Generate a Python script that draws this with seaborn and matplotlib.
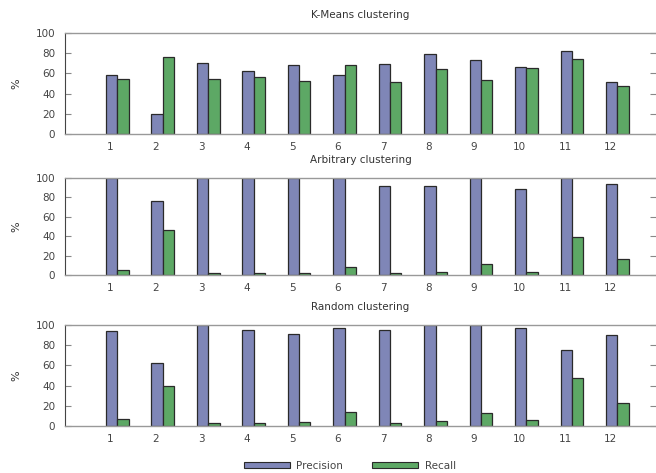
import numpy as np
import pandas as pd
import matplotlib
matplotlib.use("Agg")
import matplotlib.pyplot as plt
import seaborn as sns
from matplotlib.patches import Patch

clusters = list(range(1, 13))
titles = ["K-Means clustering", "Arbitrary clustering", "Random clustering"]
series = ["Precision", "Recall"]

kmeans_precision = [58, 20, 70, 62, 68, 58, 69, 79, 73, 66, 82, 51]
kmeans_recall = [54, 76, 54, 56, 52, 68, 51, 64, 53, 65, 74, 48]
arbitrary_precision = [100, 76, 100, 100, 100, 100, 92, 92, 100, 89, 100, 94]
arbitrary_recall = [5, 46, 2, 2, 2, 8, 2, 3, 11, 3, 39, 17]
random_precision = [94, 62, 100, 95, 91, 97, 95, 100, 100, 97, 75, 90]
random_recall = [7, 40, 3, 3, 4, 14, 3, 5, 13, 6, 48, 23]

yticks = [0, 20, 40, 60, 80, 100]

panels = [
    (kmeans_precision, kmeans_recall),
    (arbitrary_precision, arbitrary_recall),
    (random_precision, random_recall),
]

sns.set_style("white")
plt.rcParams['font.family'] = ['DejaVu Sans']

colors = {"Precision": "#7f86b7", "Recall": "#5da865"}
W, H = 656, 473
fig = plt.figure(figsize=(W / 100, H / 100), dpi=100)

# axes boxes in pixels: (left, top, right, bottom)
boxes = [(65, 33, 656, 134), (65, 178, 656, 275), (65, 325, 656, 426)]

for (prec, rec), title, (l, t, r, b) in zip(panels, titles, boxes):
    ax = fig.add_axes([l / W, 1 - b / H, (r - l) / W, (b - t) / H])
    df = pd.DataFrame({
        "cluster": clusters * 2,
        "value": list(prec) + list(rec),
        "metric": ["Precision"] * 12 + ["Recall"] * 12,
    })
    sns.barplot(data=df, x="cluster", y="value", hue="metric", native_scale=True,
                palette=colors, width=0.5, edgecolor="#2a2a2a", linewidth=0.9,
                legend=False, ax=ax, errorbar=None, saturation=1)
    ax.set_xlim(-0.15, 12.85)
    ax.set_ylim(0, 100)
    ax.set_xticks(np.array(clusters) - 0.15)
    ax.set_xticklabels([str(c) for c in clusters])
    ax.set_yticks(yticks)
    ax.set_xlabel("")
    ax.set_ylabel("%", fontsize=8, color="#333333", labelpad=10)
    ax.set_title(title, fontsize=7.5, color="#333333", pad=11)
    ax.tick_params(axis="y", direction="in", length=4, left=True, right=True,
                   labelsize=7.5, labelcolor="#444444", color="#888888", pad=7)
    ax.tick_params(axis="x", bottom=False, labelsize=7.5, labelcolor="#444444", pad=2)
    for s in ["top", "bottom"]:
        ax.spines[s].set_color("#999999")
        ax.spines[s].set_linewidth(1.0)
    ax.spines["left"].set_color("#444444")
    ax.spines["left"].set_linewidth(0.8)
    ax.spines["right"].set_visible(False)

handles = [Patch(facecolor=colors[s], edgecolor="#2a2a2a", linewidth=0.8, label=s) for s in series]
fig.legend(handles=handles, loc="center", bbox_to_anchor=(350 / W, 1 - 466 / H), ncol=2,
           frameon=False, fontsize=7.5, handlelength=4.4, handleheight=0.5,
           columnspacing=2.8, handletextpad=0.6, labelcolor="#444444")

fig.savefig("out.png", dpi=100)
